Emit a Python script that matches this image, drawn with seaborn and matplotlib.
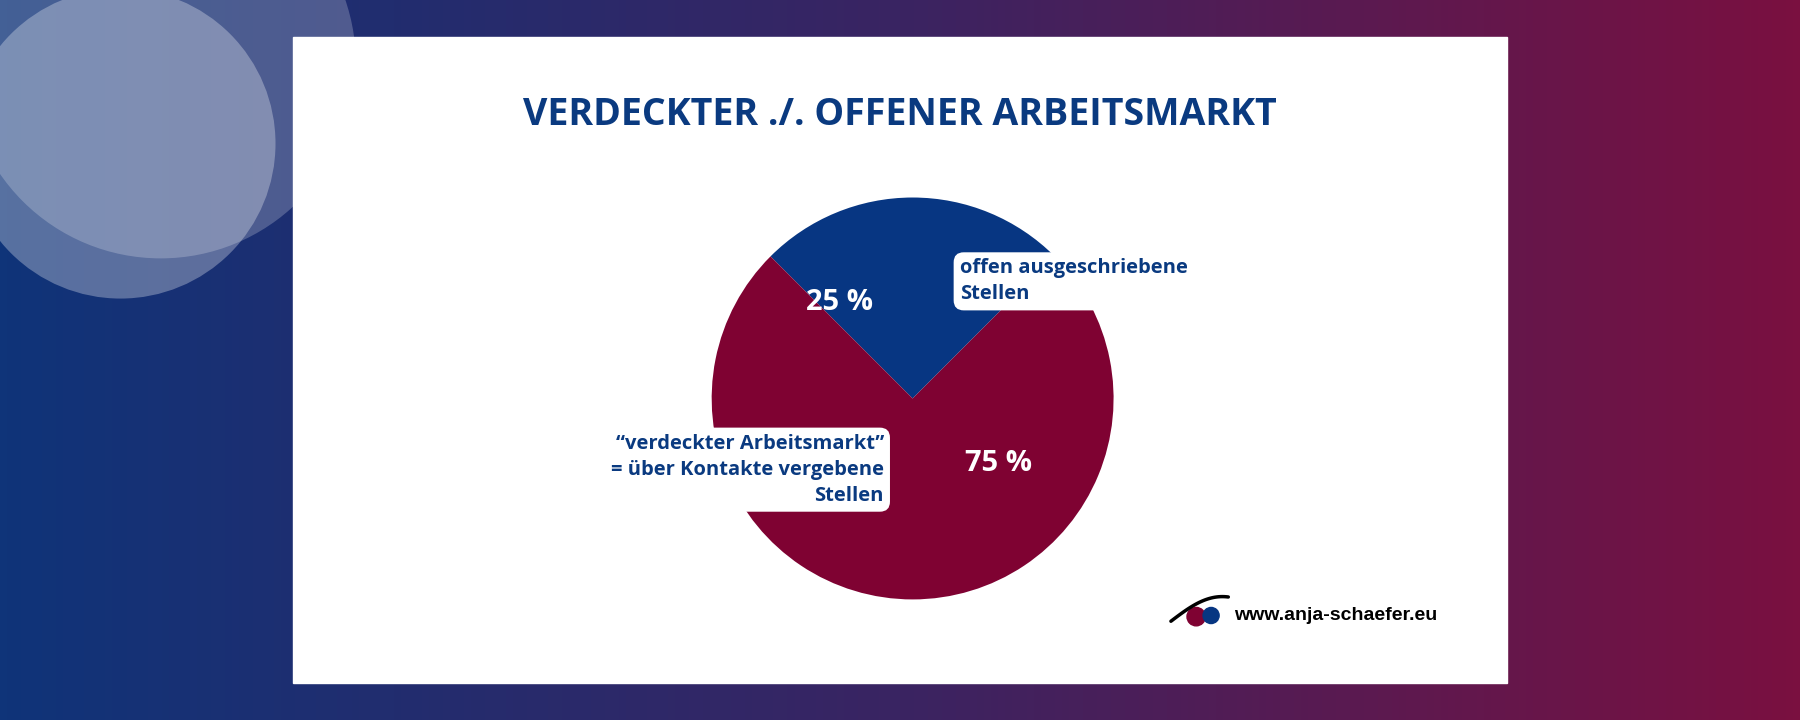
import numpy as np
import matplotlib
matplotlib.use("Agg")
import matplotlib.pyplot as plt
from matplotlib.patches import Circle, Rectangle
import seaborn as sns

sns.set_theme(style="white")
plt.rcParams["font.family"] = "Open Sans"

title = "VERDECKTER ./. OFFENER ARBEITSMARKT"
categories = ["offen ausgeschriebene Stellen", "verdeckter Arbeitsmarkt"]
values = [25, 75]
pct_labels = ["25 %", "75 %"]
colors = ["#073682", "#7f0232"]
label_texts = ["offen ausgeschriebene\nStellen",
               "\u201cverdeckter Arbeitsmarkt\u201d\n= über Kontakte vergebene\nStellen"]
website = "www.anja-schaefer.eu"

fig = plt.figure(figsize=(18, 7.2), dpi=100)
W, H = 1568, 627
bg = fig.add_axes([0, 0, 1, 1])
grad = np.linspace(0, 1, 512)[None, :]
cmap = matplotlib.colors.LinearSegmentedColormap.from_list("g", ["#0f3479", "#3a2462", "#7a1040"])
bg.imshow(grad, extent=[0, W, H, 0], aspect="auto", cmap=cmap)
bg.set_xlim(0, W); bg.set_ylim(H, 0); bg.axis("off")
bg.add_patch(Circle((140, 55), 170, color="white", alpha=0.22, lw=0))
bg.add_patch(Circle((105, 125), 135, color="white", alpha=0.3, lw=0))
bg.add_patch(Rectangle((255, 32), 1058, 563, color="white", zorder=2))

cx, cy, r = 795 / W, 1 - 347 / H, 175 / H
aw, ah = 2 * r * 720 / 1800, 2 * r
ax = fig.add_axes([cx - aw / 2, cy - ah / 2, aw, ah])
ax.pie(values, colors=colors, startangle=90 - values[0] * 3.6 / 2, counterclock=True,
       wedgeprops=dict(linewidth=0), radius=1)
ax.set_xlim(-1, 1); ax.set_ylim(-1, 1)
ax.set_aspect("equal"); ax.axis("off")

ov = fig.add_axes([0, 0, 1, 1])
ov.set_xlim(0, W); ov.set_ylim(H, 0); ov.axis("off"); ov.patch.set_alpha(0)
ov.text(784, 100, title, ha="center", va="center", fontsize=27, fontweight="bold", color="#0a3a80")
t = np.linspace(0, 1, 30)
ov.plot(1020 + 50 * t, 541 - 18 * np.sin(np.pi * t * 0.6) - 4 * t, color="black", lw=2.5)
ov.add_patch(Circle((1042, 537), 8, color="#7f0232"))
ov.add_patch(Circle((1055, 536), 7, color="#073682"))
ov.text(1075, 536, website, ha="left", va="center", fontsize=14, fontweight="bold",
        color="black", fontfamily="Liberation Sans")
ov.text(731, 263, pct_labels[0], ha="center", va="center", fontsize=21, fontweight="bold", color="white")
ov.text(870, 404, pct_labels[1], ha="center", va="center", fontsize=21, fontweight="bold", color="white")
ov.text(836, 245, label_texts[0], ha="left", va="center", fontsize=14.5, fontweight="bold",
        color="#0a3a80", linespacing=1.4,
        bbox=dict(boxstyle="round,pad=0.3,rounding_size=0.5", fc="white", ec="none"))
ov.text(770, 409, label_texts[1], ha="right", va="center", fontsize=14.5, fontweight="bold",
        color="#0a3a80", linespacing=1.4, multialignment="right",
        bbox=dict(boxstyle="round,pad=0.3,rounding_size=0.5", fc="white", ec="none"))

fig.savefig("out.png", dpi=100)
